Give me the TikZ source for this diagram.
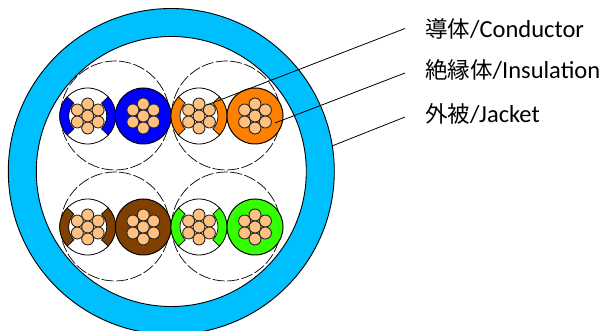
\documentclass[tikz,border=0pt]{standalone}
\usepackage{fontspec}
\setmainfont{Carlito}
\newfontfamily\jpfont{Noto Sans CJK JP}
\tikzset{
  jacket/.style={draw=black,line width=0.9pt,fill=jacketblue,even odd rule},
  pairring/.style={draw=black,line width=0.7pt,dash pattern=on 12pt off 2.5pt},
  wirebody/.style={draw=black,line width=1pt,fill=#1},
  wirehole/.style={draw=black,line width=0.8pt,fill=white},
  strand/.style={draw=black!85,line width=0.9pt,fill=strandcol},
  sleeve/.style={draw=black,line width=0.7pt,fill=#1},
  leader/.style={draw=black,line width=0.8pt},
  lbl/.style={anchor=base west,inner sep=0pt,font=\fontsize{24.5}{28}\selectfont}
}
\definecolor{jacketblue}{HTML}{00BFFF}
\definecolor{strandcol}{HTML}{FFC080}
\definecolor{wblue}{HTML}{0000FF}
\definecolor{worange}{HTML}{FF8000}
\definecolor{wbrown}{HTML}{804000}
\definecolor{wgreen}{HTML}{33FF00}
\newcommand{\jp}[1]{{\jpfont\fontsize{22.5}{28}\selectfont #1}}
\newcommand{\strands}[1]{%
  \foreach \a in {90,150,210,270,330,30}
    \path[strand] (#1) ++(\a:12) circle[radius=6];
  \path[strand] (#1) circle[radius=6];
}
\newcommand{\solidwire}[2]{%
  \path[wirebody=#2] (#1) circle[radius=28];
  \strands{#1}
}
\newcommand{\openwire}[2]{%
  \path[wirehole] (#1) circle[radius=28];
  \path[sleeve=#2] (#1) ++(137:28) arc[start angle=137,end angle=223,radius=28]
     -- ++(43:9) arc[start angle=223,end angle=137,radius=19] -- cycle;
  \path[sleeve=#2] (#1) ++(43:28) arc[start angle=43,end angle=-43,radius=28]
     -- ++(137:9) arc[start angle=-43,end angle=43,radius=19] -- cycle;
  \strands{#1}
}
\begin{document}
\begin{tikzpicture}[x=1pt,y=-1pt]
\useasboundingbox (0,0) rectangle (603,331);
\clip (0,0) rectangle (603,331);
\coordinate (cable) at (171.3,171.5);
\path[jacket] (cable) circle[radius=163] (cable) circle[radius=135];
\foreach \n/\x/\y in {ga/115/115.5,gb/226/115.5,gc/115/226.5,gd/226/226.5}{
  \coordinate (\n) at (\x,\y);
  \draw[pairring] (\n) circle[radius=54.5];
}
\coordinate (w1) at (87.7,116);
\coordinate (w2) at (143.3,116);
\coordinate (w3) at (199,116);
\coordinate (w4) at (255,116);
\coordinate (w5) at (87.7,227);
\coordinate (w6) at (143.3,227);
\coordinate (w7) at (199,227);
\coordinate (w8) at (255,227);
\openwire{w1}{wblue}
\solidwire{w2}{wblue}
\openwire{w3}{worange}
\solidwire{w4}{worange}
\openwire{w5}{wbrown}
\solidwire{w6}{wbrown}
\openwire{w7}{wgreen}
\solidwire{w8}{wgreen}
\node[lbl] (cond) at (425,38) {\jp{導体}/Conductor};
\node[lbl] (insu) at (425,79) {\jp{絶縁体}/Insulation};
\node[lbl] (jack) at (425,123) {\jp{外被}/Jacket};
\coordinate (t1) at (405,28.5);
\coordinate (t2) at (405,73);
\coordinate (t3) at (405,117);
\coordinate (e1) at (207,105);
\coordinate (e2) at (275,123);
\coordinate (e3) at (332,146);
\draw[leader] (t1) -- (e1);
\draw[leader] (t2) -- (e2);
\draw[leader] (t3) -- (e3);
\end{tikzpicture}
\end{document}
